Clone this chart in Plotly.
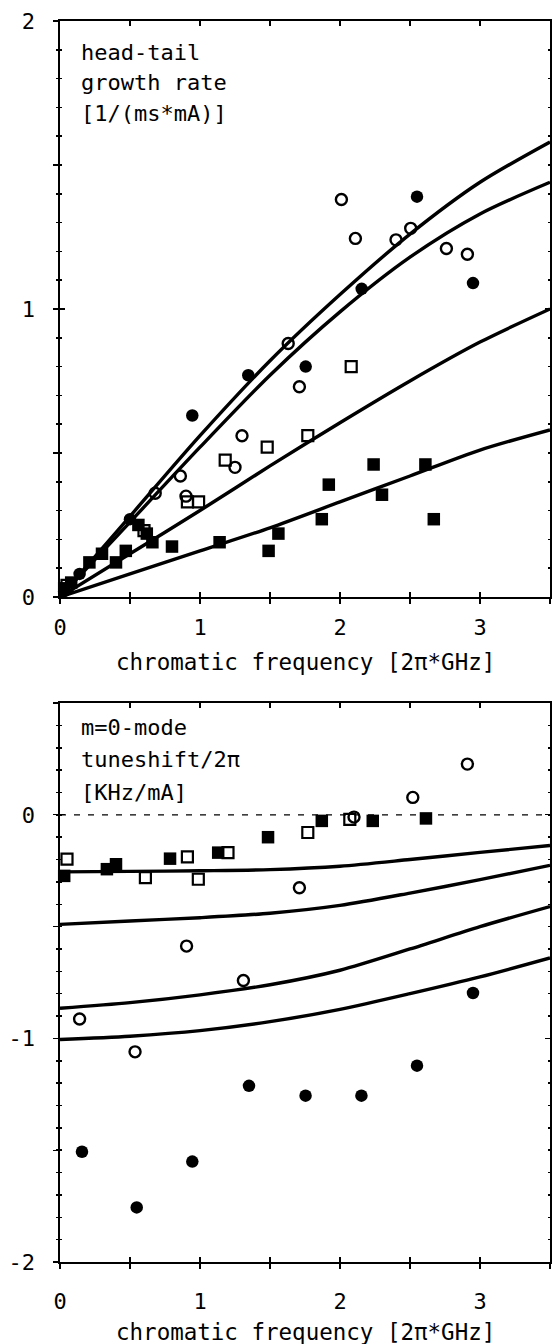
import plotly.graph_objects as go

# ---------------- data: top panel (head-tail growth rate) ----------------
curve_x = [0.0, 0.5, 1.0, 1.5, 2.0, 2.5, 3.0, 3.5]
top_curve_1 = [0.0, 0.28, 0.56, 0.82, 1.05, 1.26, 1.44, 1.58]
top_curve_2 = [0.0, 0.26, 0.52, 0.77, 0.99, 1.18, 1.33, 1.44]
top_curve_3 = [0.0, 0.15, 0.30, 0.455, 0.605, 0.75, 0.885, 1.00]
top_curve_4 = [0.0, 0.08, 0.16, 0.24, 0.33, 0.42, 0.51, 0.58]

top_fc_x = [0.03, 0.14, 0.50, 0.945, 1.345, 1.755, 2.155, 2.55, 2.95]
top_fc_y = [0.02, 0.08, 0.27, 0.63, 0.77, 0.80, 1.07, 1.39, 1.09]

top_oc_x = [0.68, 0.86, 0.90, 1.25, 1.30, 1.63, 1.71, 2.01, 2.11, 2.40, 2.505, 2.76, 2.91]
top_oc_y = [0.36, 0.42, 0.35, 0.45, 0.56, 0.88, 0.73, 1.38, 1.245, 1.24, 1.28, 1.21, 1.19]

top_os_x = [0.05, 0.60, 0.91, 0.99, 1.18, 1.48, 1.77, 2.08]
top_os_y = [0.04, 0.23, 0.33, 0.33, 0.475, 0.52, 0.56, 0.80]

top_fs_x = [0.03, 0.08, 0.21, 0.30, 0.40, 0.47, 0.56, 0.62, 0.66, 0.80, 1.14, 1.49,
            1.56, 1.87, 1.92, 2.24, 2.30, 2.61, 2.67]
top_fs_y = [0.03, 0.05, 0.12, 0.15, 0.12, 0.16, 0.25, 0.22, 0.19, 0.175, 0.19, 0.16,
            0.22, 0.27, 0.39, 0.46, 0.355, 0.46, 0.27]

# ---------------- data: bottom panel (m=0 mode tuneshift) ----------------
bot_curve_1 = [-0.255, -0.253, -0.25, -0.245, -0.23, -0.20, -0.168, -0.137]
bot_curve_2 = [-0.49, -0.475, -0.46, -0.44, -0.405, -0.35, -0.29, -0.226]
bot_curve_3 = [-0.865, -0.84, -0.805, -0.76, -0.695, -0.60, -0.50, -0.41]
bot_curve_4 = [-1.005, -0.99, -0.965, -0.925, -0.87, -0.80, -0.725, -0.64]

bot_fc_x = [0.157, 0.548, 0.945, 1.35, 1.754, 2.153, 2.55, 2.95]
bot_fc_y = [-1.507, -1.756, -1.551, -1.212, -1.256, -1.256, -1.122, -0.797]

bot_oc_x = [0.14, 0.536, 0.904, 1.31, 1.71, 2.10, 2.52, 2.91]
bot_oc_y = [-0.913, -1.06, -0.587, -0.741, -0.326, -0.01, 0.078, 0.227]

bot_os_x = [0.05, 0.61, 0.91, 0.988, 1.20, 1.77, 2.07]
bot_os_y = [-0.198, -0.281, -0.188, -0.288, -0.169, -0.079, -0.02]

bot_fs_x = [0.03, 0.335, 0.40, 0.786, 1.13, 1.486, 1.87, 2.234, 2.614]
bot_fs_y = [-0.273, -0.243, -0.221, -0.196, -0.169, -0.10, -0.027, -0.027, -0.016]

x_tickvals = [0, 0.5, 1, 1.5, 2, 2.5, 3, 3.5]
x_ticktext = ["0", "", "1", "", "2", "", "3", ""]
top_y_tickvals = [0, 0.5, 1, 1.5, 2]
top_y_ticktext = ["0", "", "1", "", "2"]
bot_y_tickvals = [-2, -1.5, -1, -0.5, 0, 0.5]
bot_y_ticktext = ["-2", "", "-1", "", "0", ""]

top_label_lines = ["head-tail", "growth rate", "[1/(ms*mA)]"]
bot_label_lines = ["m=0-mode", "tuneshift/2π", "[KHz/mA]"]
x_title = "chromatic frequency [2π*GHz]"

FONT = "DejaVu Sans Mono"
INK = "black"

fig = go.Figure()


def add_panel(xa, ya, curves, fc, oc, os_, fs):
    for cy in curves:
        fig.add_trace(go.Scatter(x=curve_x, y=cy, mode="lines", xaxis=xa, yaxis=ya,
                                 line=dict(color=INK, width=3.4, shape="spline", smoothing=0.8),
                                 hoverinfo="skip", showlegend=False))
    fig.add_trace(go.Scatter(x=fc[0], y=fc[1], mode="markers", xaxis=xa, yaxis=ya, cliponaxis=False,
                             marker=dict(symbol="circle", size=12.5, color=INK), showlegend=False))
    fig.add_trace(go.Scatter(x=oc[0], y=oc[1], mode="markers", xaxis=xa, yaxis=ya, cliponaxis=False,
                             marker=dict(symbol="circle-open", size=11, color=INK, line=dict(width=2.4, color=INK)),
                             showlegend=False))
    fig.add_trace(go.Scatter(x=os_[0], y=os_[1], mode="markers", xaxis=xa, yaxis=ya, cliponaxis=False,
                             marker=dict(symbol="square-open", size=11, color=INK, line=dict(width=2.2, color=INK)),
                             showlegend=False))
    fig.add_trace(go.Scatter(x=fs[0], y=fs[1], mode="markers", xaxis=xa, yaxis=ya, cliponaxis=False,
                             marker=dict(symbol="square", size=12.5, color=INK), showlegend=False))


add_panel("x", "y", [top_curve_1, top_curve_2, top_curve_3, top_curve_4],
          (top_fc_x, top_fc_y), (top_oc_x, top_oc_y), (top_os_x, top_os_y), (top_fs_x, top_fs_y))
add_panel("x2", "y2", [bot_curve_1, bot_curve_2, bot_curve_3, bot_curve_4],
          (bot_fc_x, bot_fc_y), (bot_oc_x, bot_oc_y), (bot_os_x, bot_os_y), (bot_fs_x, bot_fs_y))

# zero reference line in the lower panel
fig.add_shape(type="line", xref="x2 domain", yref="y2", x0=0, x1=1, y0=0, y1=0,
              line=dict(color=INK, width=1.2, dash="6px,8px"), layer="below")

TOP_DOM = [0.5359, 1.0]
BOT_DOM = [0.0, 0.4504]
XR = [0, 3.5]
TOPR = [0, 2]
BOTR = [-2, 0.5]

tickfont = dict(family=FONT, size=22, color=INK)


def xaxis(anchor, standoff=10, labels=True, inside=False, overlay=None):
    d = dict(range=XR, domain=[0, 1], anchor=anchor, tickvals=x_tickvals,
             ticktext=x_ticktext, ticks="inside" if inside else "outside", ticklen=5, tickwidth=1.3,
             tickcolor=INK, mirror="ticks" if inside else True, showline=not inside, linecolor=INK,
             linewidth=1.6, showgrid=False, zeroline=False, showticklabels=labels, tickfont=tickfont,
             ticklabelstandoff=standoff, fixedrange=True, automargin=False)
    if overlay:
        d["overlaying"] = overlay
    return d


def yaxis(anchor, dom, rng, tv, tt, inside=False, overlay=None):
    d = dict(range=rng, domain=dom, anchor=anchor, tickvals=tv, ticktext=tt,
             ticks="inside" if inside else "outside", ticklen=5, tickwidth=1.3, tickcolor=INK,
             minor=dict(dtick=0.1, ticks="inside" if inside else "outside", ticklen=2, tickwidth=1.5,
                        tickcolor=INK, showgrid=False),
             mirror="ticks" if inside else True, showline=not inside, linecolor=INK, linewidth=1.6,
             showgrid=False, zeroline=False, showticklabels=not inside, tickfont=tickfont,
             ticklabelstandoff=14, fixedrange=True, automargin=False)
    if overlay:
        d["overlaying"] = overlay
    return d


fig.update_layout(
    width=552, height=1344,
    margin=dict(l=60, r=2, t=21, b=82),
    paper_bgcolor="white", plot_bgcolor="white",
    font=dict(family=FONT, size=22, color=INK),
    showlegend=False,
    xaxis=xaxis("y", standoff=5),
    yaxis=yaxis("x", TOP_DOM, TOPR, top_y_tickvals, top_y_ticktext),
    xaxis2=xaxis("y2", standoff=14),
    yaxis2=yaxis("x2", BOT_DOM, BOTR, bot_y_tickvals, bot_y_ticktext),
    xaxis3=xaxis("y", labels=False, inside=True, overlay="x"),
    yaxis3=yaxis("x", TOP_DOM, TOPR, top_y_tickvals, top_y_ticktext, inside=True, overlay="y"),
    xaxis4=xaxis("y2", labels=False, inside=True, overlay="x2"),
    yaxis4=yaxis("x2", BOT_DOM, BOTR, bot_y_tickvals, bot_y_ticktext, inside=True, overlay="y2"),
)

# invisible traces so overlay tick axes are drawn
fig.add_trace(go.Scatter(x=[None], y=[None], xaxis="x3", yaxis="y3", showlegend=False, hoverinfo="skip"))
fig.add_trace(go.Scatter(x=[None], y=[None], xaxis="x4", yaxis="y4", showlegend=False, hoverinfo="skip"))

annfont = dict(family=FONT, size=22, color=INK)
titlefont = dict(family=FONT, size=22.5, color=INK)
# panel labels, one annotation per line for the wider line spacing
for i, line in enumerate(top_label_lines):
    fig.add_annotation(text=line, xref="x domain", yref="y domain", x=0.038, y=1,
                       yshift=-31 - 30.5 * i, xanchor="left", yanchor="middle", showarrow=False,
                       font=annfont)
for i, line in enumerate(bot_label_lines):
    fig.add_annotation(text=line, xref="x2 domain", yref="y2 domain", x=0.038, y=1,
                       yshift=-24 - 32.5 * i, xanchor="left", yanchor="middle", showarrow=False,
                       font=annfont)
# axis titles
fig.add_annotation(text=x_title, xref="x domain", yref="y domain", x=0.5, y=0, yshift=-50,
                   xanchor="center", yanchor="top", showarrow=False, font=titlefont)
fig.add_annotation(text=x_title, xref="x2 domain", yref="y2 domain", x=0.5, y=0, yshift=-55,
                   xanchor="center", yanchor="top", showarrow=False, font=titlefont)

fig.write_html("out.html", config={"displayModeBar": False, "staticPlot": True},
               post_script="document.body.style.margin='0px';")
